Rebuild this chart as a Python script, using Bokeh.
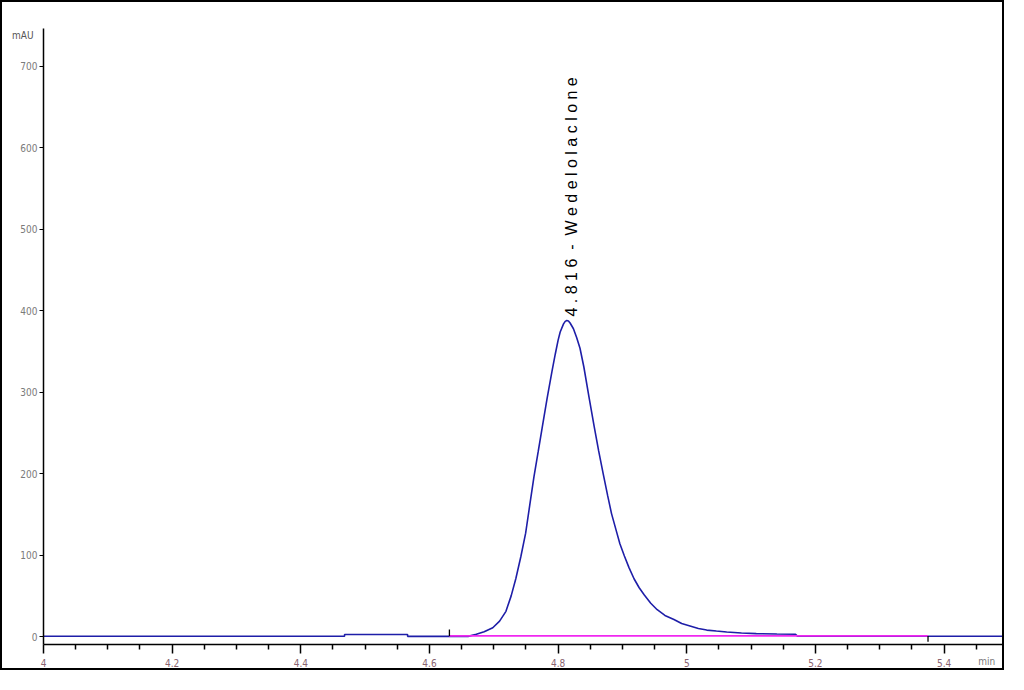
import math
from bokeh.plotting import figure
from bokeh.models import FixedTicker, Label, LinearAxis
from bokeh.embed import file_html
from bokeh.resources import INLINE

# ---- data ----
trace_time = [4.000, 4.468, 4.468, 4.566, 4.566, 4.660, 4.6728, 4.685, 4.6984, 4.709,
              4.7189, 4.727, 4.7342, 4.742, 4.7495, 4.756, 4.7624, 4.769, 4.7751, 4.783,
              4.7905, 4.7956, 4.8000, 4.8032, 4.8084, 4.8110, 4.8135, 4.8160, 4.8186, 4.8238,
              4.8289, 4.834, 4.840, 4.848, 4.856, 4.863, 4.870, 4.877, 4.883, 4.890,
              4.896, 4.903, 4.910, 4.918, 4.926, 4.934, 4.944, 4.954, 4.966, 4.980,
              4.992, 5.005, 5.018, 5.031, 5.046, 5.062, 5.085, 5.108, 5.140, 5.169,
              5.172, 5.375, 5.497]
trace_mau = [0.5, 0.5, 2.5, 2.5, 0.3, 0.3, 2.8, 6, 10.9, 19,
             31, 50, 71, 98, 127, 162, 196, 227, 256, 293,
             326, 347, 364, 374, 384, 387, 388, 387.5, 385, 378,
             367, 354, 331, 294, 258, 228, 200, 173, 151, 131,
             114, 99, 85, 71, 60, 51, 41, 33, 26, 21,
             16, 13, 10, 8, 6.8, 5.7, 4.5, 3.6, 3.1, 2.8,
             0.5, 0.5, 0.5]

baseline_time = [4.631, 5.375]
baseline_mau = [0.8, 0.8]

peak_rt = "4.816"
peak_name = "W e d e l o l a c l o n e"

x_ticks = [4.0, 4.2, 4.4, 4.6, 4.8, 5.0, 5.2, 5.4]
x_tick_labels = ["4", "4.2", "4.4", "4.6", "4.8", "5", "5.2", "5.4"]
x_minor_ticks = [4.05, 4.10, 4.15, 4.25, 4.30, 4.35, 4.45, 4.50, 4.55, 4.65, 4.70, 4.75,
                 4.85, 4.90, 4.95, 5.05, 5.10, 5.15, 5.25, 5.30, 5.35, 5.45]
y_ticks = [0, 100, 200, 300, 400, 500, 600, 700]
y_tick_labels = ["0", "100", "200", "300", "400", "500", "600", "700"]
x_unit, x_unit_pos = "min", 5.489
y_unit, y_unit_pos = "mAU", 738

# ---- figure ----
p = figure(width=1004, height=670, x_range=(4.0, 5.497), y_range=(-9.7, 746.6),
           output_backend="svg", toolbar_location=None,
           min_border_left=41, min_border_right=0, min_border_top=26, min_border_bottom=28)
p.styles = {"border": "2px solid black"}
p.outline_line_color = None
p.xgrid.visible = False
p.ygrid.visible = False
p.background_fill_color = "white"
p.border_fill_color = "white"

TICK_FONT = "DejaVu Sans Condensed"

xa = p.xaxis[0]
xa.ticker = FixedTicker(ticks=x_ticks, minor_ticks=x_minor_ticks)
xa.major_label_overrides = {t: l for t, l in zip(x_ticks, x_tick_labels)}
xa.axis_line_width = 1.5
xa.axis_line_color = "black"
xa.major_tick_out = 9
xa.major_tick_in = 0
xa.minor_tick_out = 5
xa.minor_tick_in = 0
xa.major_tick_line_width = 1.5
xa.minor_tick_line_width = 1.5
xa.major_label_standoff = 5
xa.major_label_text_font = TICK_FONT
xa.major_label_text_font_size = "10px"
xa.major_label_text_color = "#8a6470"

ya = p.yaxis[0]
ya.ticker = FixedTicker(ticks=y_ticks, minor_ticks=[])
ya.major_label_overrides = {t: l for t, l in zip(y_ticks, y_tick_labels)}
ya.axis_line_width = 1.5
ya.axis_line_color = "black"
ya.major_tick_out = 4
ya.major_tick_in = 0
ya.major_label_standoff = 2
ya.major_label_text_font = TICK_FONT
ya.major_label_text_font_size = "10px"
ya.major_label_text_color = "#7a7a7a"

# unit labels as extra (line-less) axes
xu = LinearAxis(ticker=FixedTicker(ticks=[x_unit_pos], minor_ticks=[]),
                major_label_overrides={x_unit_pos: x_unit},
                axis_line_color=None, major_tick_line_color=None, minor_tick_line_color=None,
                major_tick_out=0, major_tick_in=0, minor_tick_out=0, minor_tick_in=0,
                major_label_standoff=-14, major_label_text_font=TICK_FONT,
                major_label_text_font_size="10px", major_label_text_color="#7a7a7a")
p.add_layout(xu, "below")
yu = LinearAxis(ticker=FixedTicker(ticks=[y_unit_pos], minor_ticks=[]),
                major_label_overrides={y_unit_pos: y_unit},
                axis_line_color=None, major_tick_line_color=None, minor_tick_line_color=None,
                major_tick_out=0, major_tick_in=0, minor_tick_out=0, minor_tick_in=0,
                major_label_standoff=-16, major_label_text_font=TICK_FONT,
                major_label_text_font_size="10px", major_label_text_color="#555555")
p.add_layout(yu, "left")

# chromatogram trace
p.line(trace_time, trace_mau, line_color="#1e1ea8", line_width=1.6)
# integration baseline
p.line(baseline_time, baseline_mau, line_color="#f028f0", line_width=1.8)
# integration start / end markers
p.segment(x0=[baseline_time[0]], y0=[baseline_mau[0]], x1=[baseline_time[0]], y1=[baseline_mau[0] + 8],
          line_color="black", line_width=1.3)
p.segment(x0=[baseline_time[1]], y0=[baseline_mau[1]], x1=[baseline_time[1]], y1=[baseline_mau[1] - 7],
          line_color="black", line_width=1.3)

# peak label (rotated)
NB = "\u00a0"
p.add_layout(Label(x=float(peak_rt) + 0.005, y=393,
                   text=f"{' '.join(peak_rt)}{NB}{NB}-{NB}{NB}{peak_name}", angle=math.pi / 2,
                   text_align="left", text_baseline="middle", text_font="Liberation Sans",
                   text_font_size="16px", text_color="black"))

open("out.html", "w").write(file_html(p, INLINE))
